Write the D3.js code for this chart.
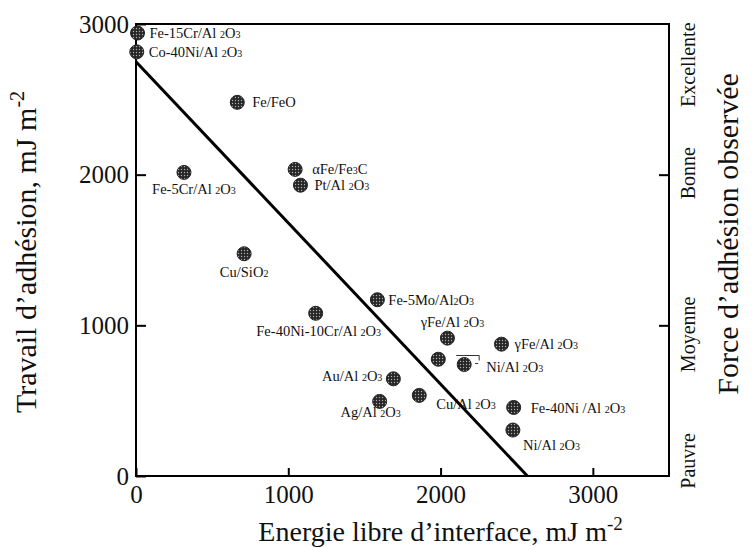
<!DOCTYPE html>
<html>
<head>
<meta charset="utf-8">
<script src="https://cdn.jsdelivr.net/npm/d3@7"></script>
<style>
  body { margin: 0; background: #fff; }
  svg text { font-family: 'Liberation Serif', 'DejaVu Serif', serif; fill: #111; }
</style>
</head>
<body>
<div id="chart"></div>
<script>
// values (mJ m-2)
let names = [
  'Fe-15Cr/Al {2}O{3}', 'Co-40Ni/Al {2}O{3}', 'Fe/FeO', 'Fe-5Cr/Al {2}O{3}',
  'αFe/Fe{3}C', 'Pt/Al {2}O{3}', 'Cu/SiO{2}', 'Fe-5Mo/Al{2}O{3}',
  'Fe-40Ni-10Cr/Al {2}O{3}', 'γFe/Al {2}O{3}', 'γFe/Al {2}O{3}', '',
  'Ni/Al {2}O{3}', 'Au/Al {2}O{3}', 'Ag/Al {2}O{3}', 'Cu/Al {2}O{3}',
  'Fe-40Ni /Al {2}O{3}', 'Ni/Al {2}O{3}'
]
let interfaceEnergy = [
  10, 5, 665, 315, 1045, 1080, 710, 1585,
  1180, 2045, 2400, 1985,
  2155, 1690, 1600, 1860,
  2480, 2475
]
let adhesionWork = [
  2940, 2815, 2480, 2015, 2035, 1930, 1475, 1170,
  1080, 915, 875, 775,
  740, 645, 495, 535,
  455, 305
]
let fitLineX = [0, 2570]
let fitLineY = [2750, 0]

let xTicks = [0, 1000, 2000, 3000]
let yTicks = [0, 1000, 2000, 3000]
let qualityLabels = ['Pauvre', 'Moyenne', 'Bonne', 'Excellente']
let qualityLevels = [100, 940, 2010, 2730]

// label placement: [dx, dy, anchor] relative to the dot
let labelPlacement = [
  [12, 5, 'start'], [12, 5, 'start'], [15, 5, 'start'], [10, 22, 'middle'],
  [17, 5, 'start'], [14, 5, 'start'], [0, 23, 'middle'], [11, 5, 'start'],
  [3, 23, 'middle'], [5, -11, 'middle'], [13, 5, 'start'], [0, 0, 'start'],
  [22, 7, 'start'], [-11, 2, 'end'], [-9, 16, 'middle'], [17, 14, 'start'],
  [17, 6, 'start'], [10, 20, 'start']
]

let width = 756
let height = 548

let svg = d3
  .select('#chart')
  .append('svg')
  .attr('width', width)
  .attr('height', height)

let xPositionScale = d3.scaleLinear().domain([0, 3500]).range([136, 669])
let yPositionScale = d3.scaleLinear().domain([0, 3000]).range([476, 24])

// speckled dot fill
let defs = svg.append('defs')
let pattern = defs
  .append('pattern')
  .attr('id', 'speckle')
  .attr('width', 3)
  .attr('height', 3)
  .attr('patternUnits', 'userSpaceOnUse')
pattern.append('rect').attr('width', 3).attr('height', 3).attr('fill', '#262626')
pattern.append('circle').attr('cx', 1.5).attr('cy', 1.5).attr('r', 0.7).attr('fill', '#b0b0b0')

// frame
svg
  .append('rect')
  .attr('x', xPositionScale(0))
  .attr('y', yPositionScale(3000))
  .attr('width', xPositionScale(3500) - xPositionScale(0))
  .attr('height', yPositionScale(0) - yPositionScale(3000))
  .attr('fill', 'none')
  .attr('stroke', '#000')
  .attr('stroke-width', 2)

let xAxis = d3
  .axisBottom(xPositionScale)
  .tickValues(xTicks)
  .tickSize(-8)
  .tickPadding(9)
  .tickFormat(d3.format('d'))
svg
  .append('g')
  .attr('class', 'axis x-axis')
  .attr('transform', 'translate(0,' + yPositionScale(0) + ')')
  .call(xAxis)

let yAxis = d3
  .axisLeft(yPositionScale)
  .tickValues(yTicks)
  .tickSize(-10)
  .tickPadding(7)
  .tickFormat(d3.format('d'))
svg
  .append('g')
  .attr('class', 'axis y-axis')
  .attr('transform', 'translate(' + xPositionScale(0) + ',0)')
  .call(yAxis)

let yAxisRight = d3
  .axisRight(yPositionScale)
  .tickValues([1000, 2000])
  .tickSize(-10)
  .tickFormat('')
svg
  .append('g')
  .attr('class', 'axis y-axis-right')
  .attr('transform', 'translate(' + xPositionScale(3500) + ',0)')
  .call(yAxisRight)

svg.selectAll('.axis').attr('font-family', null)
svg.selectAll('.axis .domain').remove()
svg.selectAll('.axis line').attr('stroke', '#000').attr('stroke-width', 2)
svg
  .selectAll('.axis text')
  .attr('font-size', 25)
  .attr('fill', '#111')

// regression line
svg
  .append('line')
  .attr('x1', xPositionScale(fitLineX[0]))
  .attr('y1', yPositionScale(fitLineY[0]))
  .attr('x2', xPositionScale(fitLineX[1]))
  .attr('y2', yPositionScale(fitLineY[1]))
  .attr('stroke', '#000')
  .attr('stroke-width', 3)

let points = names.map((d, i) => {
  return {
    name: d,
    x: interfaceEnergy[i],
    y: adhesionWork[i],
    place: labelPlacement[i]
  }
})

svg
  .selectAll('.dot')
  .data(points)
  .enter()
  .append('circle')
  .attr('class', 'dot')
  .attr('cx', d => xPositionScale(d.x))
  .attr('cy', d => yPositionScale(d.y))
  .attr('r', 7)
  .attr('fill', 'url(#speckle)')
  .attr('stroke', '#222')
  .attr('stroke-width', 1)

// labels, parts in {} are drawn small
let labels = svg
  .selectAll('.point-label')
  .data(points.filter(d => d.name !== ''))
  .enter()
  .append('text')
  .attr('class', 'point-label')
  .attr('x', d => xPositionScale(d.x) + d.place[0])
  .attr('y', d => yPositionScale(d.y) + d.place[1])
  .attr('text-anchor', d => d.place[2])
  .attr('font-size', 14.5)

labels.each(function(d) {
  let parts = d.name.split(/(\{[^}]*\})/).filter(p => p !== '')
  let el = d3.select(this)
  parts.forEach(p => {
    if (p[0] === '{') {
      el.append('tspan').attr('font-size', 10).text(p.slice(1, -1))
    } else {
      el.append('tspan').text(p)
    }
  })
})

// little bracket next to the Ni/Al2O3 point
let ni = points[12]
let nx = xPositionScale(ni.x)
let ny = yPositionScale(ni.y)
svg
  .append('path')
  .attr('d', 'M' + (nx - 8) + ',' + (ny - 9) + 'H' + (nx + 15) + 'V' + (ny - 4))
  .attr('fill', 'none')
  .attr('stroke', '#333')
  .attr('stroke-width', 1)
svg
  .append('path')
  .attr('d', 'M' + (nx + 11) + ',' + (ny - 1) + 'H' + (nx + 14))
  .attr('stroke', '#333')
  .attr('stroke-width', 1)

// qualitative scale on the right
svg
  .selectAll('.quality')
  .data(qualityLabels)
  .enter()
  .append('text')
  .attr('class', 'quality')
  .attr('transform', (d, i) => {
    return 'translate(695,' + yPositionScale(qualityLevels[i]) + ') rotate(-90)'
  })
  .attr('text-anchor', 'middle')
  .attr('font-size', 20)
  .text(d => d)

// axis titles
let leftTitle = svg
  .append('text')
  .attr('transform', 'translate(36,252) rotate(-90)')
  .attr('text-anchor', 'middle')
  .attr('font-size', 30)
leftTitle.append('tspan').text('Travail d\u2019adhésion, mJ m')
leftTitle.append('tspan').attr('font-size', 20).attr('dy', -12).text('-2')

svg
  .append('text')
  .attr('transform', 'translate(738,234) rotate(-90)')
  .attr('text-anchor', 'middle')
  .attr('font-size', 30)
  .text('Force d\u2019adhésion observée')

let bottomTitle = svg
  .append('text')
  .attr('x', xPositionScale(2000))
  .attr('y', 541)
  .attr('text-anchor', 'middle')
  .attr('font-size', 28)
bottomTitle.append('tspan').text('Energie libre d\u2019interface, mJ m')
bottomTitle.append('tspan').attr('font-size', 19).attr('dy', -11).text('-2')
</script>
</body>
</html>
